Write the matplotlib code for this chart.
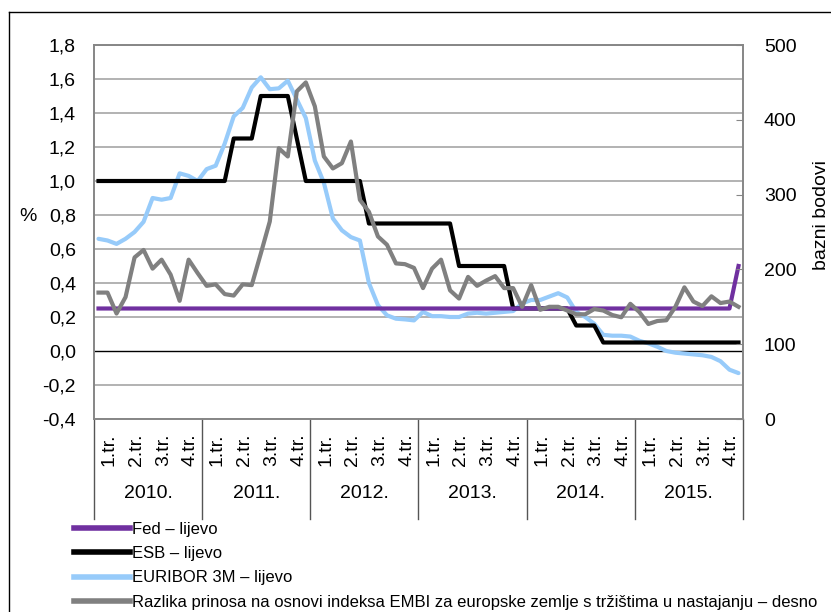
import matplotlib.pyplot as plt
import numpy as np
from matplotlib.lines import Line2D
from matplotlib.transforms import blended_transform_factory

years = ['2010.', '2011.', '2012.', '2013.', '2014.', '2015.']
quarters = ['1.tr.', '2.tr.', '3.tr.', '4.tr.']

# mjesecni podaci, sijecanj 2010. - prosinac 2015.
fed = [0.25] * 71 + [0.5]

esb = [1.0] * 15 + [1.25] * 3 + [1.5] * 4 + [1.25] + [1.0] * 7 + [0.75] * 10 \
    + [0.5] * 6 + [0.25] * 7 + [0.15] * 3 + [0.05] * 16

euribor = [0.66, 0.65, 0.63, 0.66, 0.70, 0.76, 0.90, 0.89, 0.90, 1.045, 1.03, 1.00,
           1.07, 1.09, 1.22, 1.38, 1.43, 1.55, 1.61, 1.54, 1.545, 1.59, 1.48, 1.37,
           1.12, 0.99, 0.78, 0.71, 0.67, 0.65, 0.40, 0.27, 0.21, 0.19, 0.186, 0.18,
           0.23, 0.205, 0.205, 0.20, 0.20, 0.22, 0.225, 0.22, 0.225, 0.23, 0.235, 0.28,
           0.30, 0.30, 0.32, 0.34, 0.315, 0.23, 0.20, 0.16, 0.095, 0.09, 0.09, 0.085,
           0.06, 0.045, 0.025, 0.0, -0.01, -0.015, -0.02, -0.025, -0.035, -0.06, -0.11, -0.13]

embi = [169, 169, 141, 163, 216, 226, 201, 213, 193, 158, 213, 195,
        178, 180, 167, 165, 180, 179, 221, 264, 362, 351, 438, 450,
        418, 351, 335, 342, 371, 293, 277, 244, 233, 208, 207, 202,
        175, 201, 213, 172, 161, 190, 178, 185, 191, 175, 175, 150,
        179, 146, 150, 150, 145, 140, 140, 147, 145, 139, 136, 154,
        143, 127, 131, 132, 150, 176, 157, 151, 164, 155, 157, 150]

left_ticks = [-0.4, -0.2, 0.0, 0.2, 0.4, 0.6, 0.8, 1.0, 1.2, 1.4, 1.6, 1.8]
right_ticks = [0, 100, 200, 300, 400, 500]

plt.rcParams['font.family'] = ['Liberation Sans', 'DejaVu Sans']
sans = ['Liberation Sans', 'DejaVu Sans']

W, H = 831, 612
fig = plt.figure(figsize=(W / 100, H / 100), dpi=100)
L, R, T, B = 94, 743, 45, 419
ax = fig.add_axes([L / W, 1 - B / H, (R - L) / W, (B - T) / H])
ax2 = ax.twinx()

x = np.arange(len(fed))
ax.plot(x, euribor, color='#97CBFA', lw=3, solid_capstyle='round', zorder=3)
ax.plot(x, esb, color='black', lw=3, zorder=4)
ax.plot(x, fed, color='#7030A0', lw=3, zorder=5)
ax2.plot(x, embi, color='#808080', lw=3, zorder=3)

ax.set_xlim(-0.5, len(fed) - 0.5)
ax.set_ylim(-0.4, 1.8)
ax2.set_ylim(0, 500)
ax.set_yticks(left_ticks)
ax.set_yticklabels([f'{v:.1f}'.replace('.', ',') for v in left_ticks], fontsize=14)
ax2.set_yticks(right_ticks)
ax2.set_yticklabels([str(v) for v in right_ticks], fontsize=14)
ax.set_xticks([])
ax.tick_params(axis='y', length=0, pad=13)
ax2.tick_params(axis='y', direction='in', length=5, color='#868686', pad=15)

for v in left_ticks:
    if v == 0.0:
        ax.axhline(v, color='black', lw=1, zorder=2)
    else:
        ax.axhline(v, color='#a6a6a6', lw=1.2, zorder=1)

for a in (ax, ax2):
    for s in a.spines.values():
        s.set_color('#868686')
        s.set_linewidth(1.2)

fig.text(28 / W, 1 - 216 / H, '%', fontsize=14, ha='center', va='center')
fig.text(821 / W, 1 - 215 / H, 'bazni bodovi', fontsize=14, rotation=90,
         ha='center', va='center')

# kategorijska os: kvartali i godine
tr = blended_transform_factory(ax.transData, fig.transFigure)
for yi, yr in enumerate(years):
    for qi, q in enumerate(quarters):
        ax.text(yi * 12 + qi * 3 + 1.2, 1 - 450 / H, q, transform=tr, rotation=90,
                ha='center', va='center', fontsize=14, family=sans)
    ax.text(yi * 12 + 5.5, 1 - 494 / H, yr, transform=tr, ha='center', va='center',
            fontsize=14, family=sans)
for k in range(len(years) + 1):
    xs = k * 12 - 0.5
    ax.plot([xs, xs], [1 - B / H, 1 - 519 / H], transform=tr, color='#555555',
            lw=1, clip_on=False)

# okvir
fig.add_artist(Line2D([9 / W, 9 / W], [0, 1 - 12 / H], color='black', lw=1))
fig.add_artist(Line2D([9 / W, 1], [1 - 12 / H, 1 - 12 / H], color='black', lw=1))

handles = [Line2D([], [], color='#7030A0', lw=4),
           Line2D([], [], color='black', lw=4),
           Line2D([], [], color='#97CBFA', lw=4),
           Line2D([], [], color='#808080', lw=4)]
labels = ['Fed – lijevo', 'ESB – lijevo', 'EURIBOR 3M – lijevo',
          'Razlika prinosa na osnovi indeksa EMBI za europske zemlje s tržištima u nastajanju – desno']
fig.legend(handles, labels, loc='upper left', bbox_to_anchor=(67 / W, 1 - 515 / H),
           frameon=False, prop={'size': 12, 'family': sans}, handlelength=3.4,
           handletextpad=0.1, labelspacing=0.56, borderaxespad=0)

fig.savefig('out.png', dpi=100)
